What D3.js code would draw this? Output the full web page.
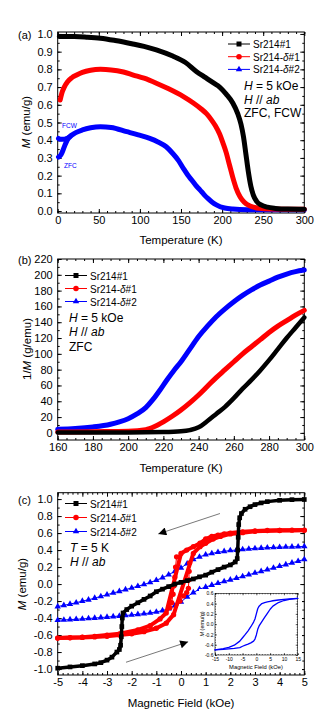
<!DOCTYPE html>
<html>
<head>
<meta charset="utf-8">
<script src="https://cdn.jsdelivr.net/npm/d3@7"></script>
<style>
  body { margin: 0; background: #fff; }
  svg { display: block; font-family: "Liberation Sans", Arial, sans-serif; }
</style>
</head>
<body>
<svg id="chart" width="332" height="726"></svg>
<script>
// ---------- data ----------
// (a) M vs T, [T (K), M (emu/g)]
const sr1M = [[2,0.985],[20,0.985],[35,0.982],[52,0.976],[70,0.963],[90,0.945],[105,0.93],[120,0.91],[140,0.875],[155,0.84],[169,0.787],[180,0.753],[190,0.722],[197,0.70],[205,0.66],[213,0.61],[219,0.55],[223,0.49],[226,0.42],[229,0.32],[232,0.22],[235,0.14],[238,0.09],[242,0.055],[248,0.033],[255,0.022],[265,0.015],[280,0.011],[300,0.01]];
const d1M = [[3,0.627],[5,0.665],[8,0.7],[12,0.73],[17,0.752],[23,0.768],[30,0.783],[40,0.795],[52,0.8],[65,0.797],[80,0.785],[92,0.768],[105,0.75],[120,0.722],[135,0.69],[153,0.646],[165,0.61],[175,0.575],[181,0.55],[187,0.515],[192,0.48],[197,0.435],[201,0.385],[205,0.33],[209,0.26],[213,0.19],[217,0.13],[222,0.08],[227,0.05],[234,0.028],[245,0.016],[260,0.012],[300,0.01]];
const d2Fcw = [[1,0.41],[4,0.405],[8,0.405],[12,0.412],[16,0.425],[22,0.443],[30,0.458],[40,0.47],[52,0.476],[65,0.472],[84,0.448],[98,0.43],[112,0.41],[122,0.39],[132,0.363],[140,0.325],[147,0.285],[153,0.24],[158,0.205],[163,0.175],[168,0.145],[173,0.12],[178,0.093],[183,0.07],[188,0.05],[193,0.035],[203,0.017],[213,0.011],[230,0.008],[260,0.008],[300,0.008]];
const d2Zfc = [[1,0.305],[4,0.318],[7,0.35],[10,0.385],[13,0.41],[16,0.425]];

// (b) 1/M vs T, [T (K), 1/M (g/emu)]
const sr1Inv = [[160,0.5],[200,0.5],[220,1],[230,2],[235,3.5],[240,7],[245,15],[250,24],[255,33],[260,44],[265,56],[270,67],[275,79],[280,92],[285,106],[290,120],[295,133],[300,146]];
const d1Inv = [[160,1],[180,1.5],[200,2],[210,4],[215,8],[220,14],[225,21],[230,29],[235,38],[240,48],[245,59],[250,70],[255,80],[260,90],[265,100],[270,109],[275,118],[280,127],[285,135],[290,142],[295,149],[300,155]];
const d2Inv = [[160,4.5],[170,5.5],[180,7.5],[190,11],[195,14],[200,18],[205,24],[210,32],[214,42],[218,54],[222,67],[226,79],[230,90],[235,106],[240,122],[245,135],[250,147],[255,157],[260,166],[265,174],[270,181],[275,187],[280,192],[285,197],[290,201],[295,204],[300,206]];

// (c) M vs H at 5 K, [H (kOe), M (emu/g)]
const sr1Loop = [[-5,-0.99],[-4.5,-0.975],[-4,-0.96],[-3.5,-0.94],[-3.25,-0.925],[-3,-0.895],[-2.8,-0.86],[-2.6,-0.8],[-2.5,-0.77],[-2.45,-0.72],[-2.42,-0.62],[-2.4,-0.5],[-2.38,-0.4],[-2.35,-0.34],[-2.2,-0.3],[-2,-0.26],[-1.75,-0.22],[-1.5,-0.18],[-1.25,-0.14],[-1,-0.09],[-0.75,-0.06],[-0.5,-0.03],[-0.25,0],[0,0.02],[0.25,0.04],[0.5,0.06],[0.75,0.085],[1,0.105],[1.25,0.14],[1.5,0.17],[1.75,0.2],[2,0.225],[2.2,0.26],[2.28,0.3],[2.3,0.4],[2.32,0.55],[2.34,0.7],[2.38,0.78],[2.45,0.83],[2.6,0.88],[2.8,0.91],[3,0.935],[3.25,0.955],[3.5,0.97],[4,0.985],[4.5,0.993],[5,0.995]];
const d1Down = [[5,0.635],[4.5,0.634],[4,0.632],[3.5,0.63],[3,0.625],[2.5,0.615],[2,0.6],[1.75,0.59],[1.5,0.575],[1.25,0.56],[1,0.53],[0.77,0.48],[0.5,0.44],[0.23,0.4],[0,0.36],[-0.18,0.32],[-0.22,0.2],[-0.25,0.08],[-0.28,-0.02],[-0.32,-0.12],[-0.38,-0.22],[-0.45,-0.28],[-0.6,-0.34],[-0.85,-0.41],[-1.25,-0.49],[-1.75,-0.54],[-2.5,-0.585],[-3,-0.6],[-3.5,-0.615],[-4,-0.625],[-4.5,-0.63],[-5,-0.635]];
const d1Up = [[-5,-0.635],[-4.5,-0.632],[-4,-0.628],[-3.5,-0.622],[-3,-0.615],[-2.5,-0.6],[-2,-0.585],[-1.5,-0.56],[-1,-0.52],[-0.6,-0.46],[-0.3,-0.36],[-0.04,-0.2],[0.1,-0.14],[0.23,-0.1],[0.3,-0.05],[0.32,0.05],[0.33,0.15],[0.35,0.25],[0.5,0.36],[0.77,0.44],[1,0.48],[1.3,0.53],[1.6,0.56],[2,0.59],[2.5,0.605],[3,0.62],[4,0.63],[5,0.632]];
const fieldGrid = [-5,-4.75,-4.5,-4.25,-4,-3.75,-3.5,-3.25,-3,-2.75,-2.5,-2.25,-2,-1.75,-1.5,-1.25,-1,-0.75,-0.5,-0.25,0,0.25,0.5,0.75,1,1.25,1.5,1.75,2,2.25,2.5,2.75,3,3.25,3.5,3.75,4,4.25,4.5,4.75,5];
const d2Down = [-0.265,-0.25,-0.235,-0.22,-0.2,-0.185,-0.165,-0.145,-0.125,-0.105,-0.085,-0.065,-0.045,-0.025,-0.005,0.02,0.045,0.075,0.11,0.15,0.19,0.24,0.29,0.32,0.345,0.36,0.375,0.385,0.395,0.4,0.408,0.414,0.42,0.424,0.428,0.431,0.434,0.436,0.438,0.44,0.442];
const d2Up = [-0.425,-0.422,-0.418,-0.414,-0.41,-0.405,-0.4,-0.394,-0.388,-0.382,-0.376,-0.37,-0.363,-0.356,-0.348,-0.34,-0.328,-0.312,-0.29,-0.255,-0.21,-0.15,-0.1,-0.06,-0.035,-0.012,0.01,0.03,0.05,0.07,0.09,0.11,0.13,0.15,0.17,0.19,0.21,0.23,0.25,0.27,0.29];

// inset: full loop of Sr214-δ#2 up to 15 kOe
const insetDown = [[15,0.5],[12,0.49],[10,0.48],[8,0.47],[6,0.455],[5,0.445],[4,0.435],[3,0.42],[2,0.4],[1,0.35],[0.5,0.3],[0,0.2],[-0.5,0.1],[-1,0.04],[-2,-0.05],[-3,-0.13],[-4,-0.2],[-5,-0.265],[-6,-0.33],[-8,-0.41],[-10,-0.45],[-12,-0.475],[-15,-0.5]];
const insetUp = [[-15,-0.5],[-12,-0.49],[-10,-0.48],[-8,-0.47],[-6,-0.455],[-5,-0.43],[-4,-0.41],[-3,-0.39],[-2,-0.365],[-1,-0.33],[-0.5,-0.29],[0,-0.21],[0.5,-0.1],[1,-0.035],[2,0.05],[3,0.13],[4,0.21],[5,0.29],[6,0.35],[8,0.42],[10,0.46],[12,0.48],[15,0.5]];

// tick labels
const tempTicksA = [0, 50, 100, 150, 200, 250, 300];
const mTicksA = [0, 0.1, 0.2, 0.3, 0.4, 0.5, 0.6, 0.7, 0.8, 0.9, 1.0];
const tempTicksB = [160, 180, 200, 220, 240, 260, 280, 300];
const invTicksB = [0, 20, 40, 60, 80, 100, 120, 140, 160, 180, 200, 220];
const fieldTicksC = [-5, -4, -3, -2, -1, 0, 1, 2, 3, 4, 5];
const mTicksC = [-1.0, -0.8, -0.6, -0.4, -0.2, 0, 0.2, 0.4, 0.6, 0.8, 1.0];
const fieldTicksIn = [-15, -10, -5, 0, 5, 10, 15];
const mTicksIn = [-0.6, -0.4, -0.2, 0, 0.2, 0.4, 0.6];

const BLACK = '#000000', RED = '#ff0000', BLUE = '#0000ff';
const series = [
  { name: ['Sr214#1'], color: BLACK, symbol: d3.symbolSquare, size: 25 },
  { name: ['Sr214-', 'δ', '#1'], color: RED, symbol: d3.symbolCircle, size: 24 },
  { name: ['Sr214-', 'δ', '#2'], color: BLUE, symbol: d3.symbolTriangle, size: 18 }
];

const svg = d3.select('#chart');
const X0 = 57.7, X1 = 304.3;
const fix1 = d => d.toFixed(1);

// frame with inward ticks on all four sides
function drawFrame(x, y, o) {
  const g = svg.append('g');
  const [xa, xb] = x.range();
  const [yb, ya] = y.range();
  const fs = o.fs || 11, tl = o.tl || 4, tm = o.tm || 2;
  const sides = [
    [d3.axisBottom, `translate(0,${yb})`, x, o.xMajor, o.xMinor, o.xFmt, o.xPad],
    [d3.axisTop, `translate(0,${ya})`, x, o.xMajor, o.xMinor, null, 0],
    [d3.axisLeft, `translate(${xa},0)`, y, o.yMajor, o.yMinor, o.yFmt, o.yPad],
    [d3.axisRight, `translate(${xb},0)`, y, o.yMajor, o.yMinor, null, 0]
  ];
  sides.forEach(([fn, tr, sc, major, minor, fmt, pad]) => {
    g.append('g').attr('transform', tr)
      .call(fn(sc).tickValues(minor).tickSize(-tm).tickFormat(''))
      .call(s => s.select('.domain').remove());
    g.append('g').attr('transform', tr)
      .call(fn(sc).tickValues(major).tickSize(-tl).tickPadding(pad).tickFormat(fmt || ''))
      .call(s => s.select('.domain').remove())
      .attr('font-size', fs).attr('font-family', null);
  });
  g.selectAll('.tick line').attr('stroke-width', o.sw || 1);
  g.append('rect')
    .attr('x', xa).attr('y', ya)
    .attr('width', xb - xa).attr('height', yb - ya)
    .attr('fill', 'none').attr('stroke', '#000').attr('stroke-width', o.sw || 1);
  return g;
}

// text made of [string, italic?] parts
function richText(x, y, parts, size, opts = {}) {
  const t = svg.append('text')
    .attr('x', x).attr('y', y)
    .attr('font-size', size)
    .attr('fill', opts.color || '#000')
    .attr('text-anchor', opts.anchor || 'start')
    .attr('dominant-baseline', 'central');
  if (opts.rotate) t.attr('transform', `rotate(-90,${x},${y})`);
  parts.forEach(([s, it]) => t.append('tspan').text(s).attr('font-style', it ? 'italic' : 'normal'));
  return t;
}

function legend(x0, y0, dy, size) {
  series.forEach((s, i) => {
    const y = y0 + i * dy;
    svg.append('line').attr('x1', x0).attr('x2', x0 + 22).attr('y1', y).attr('y2', y)
      .attr('stroke', s.color).attr('stroke-width', 1);
    svg.append('path').attr('d', d3.symbol(s.symbol, s.size)())
      .attr('transform', `translate(${x0 + 11},${y})`).attr('fill', s.color);
    const parts = s.name.map(p => [p, p === 'δ']);
    richText(x0 + 25, y, parts, size);
  });
}

function band(x, y, pts, color, width, curve) {
  svg.append('path').datum(pts)
    .attr('d', d3.line().x(d => x(d[0])).y(d => y(d[1])).curve(curve || d3.curveMonotoneX))
    .attr('fill', 'none').attr('stroke', color).attr('stroke-width', width)
    .attr('stroke-linejoin', 'round').attr('stroke-linecap', 'round');
}

function markers(x, y, pts, s, size) {
  svg.append('g').selectAll('path').data(pts).join('path')
    .attr('d', d3.symbol(s.symbol, size || s.size)())
    .attr('transform', d => `translate(${x(d[0])},${y(d[1])})`)
    .attr('fill', s.color);
}

// ---------- panel (a) ----------
const xA = d3.scaleLinear().domain([0, 300]).range([X0, X1]);
const yA = d3.scaleLinear().domain([-0.011, 1.011]).range([213, 32]);
drawFrame(xA, yA, {
  xMajor: tempTicksA, xMinor: d3.range(0, 301, 10), xFmt: d => d, xPad: 3,
  yMajor: mTicksA, yMinor: d3.range(0, 1.01, 0.05), yFmt: fix1, yPad: 5
});
band(xA, yA, d2Fcw, BLUE, 5);
band(xA, yA, d2Zfc, BLUE, 5);
band(xA, yA, d1M, RED, 5);
band(xA, yA, sr1M, BLACK, 5);
legend(228, 44, 12.7, 10);
richText(244, 86, [['H', true], [' = 5 kOe', false]], 12);
richText(244, 99.5, [['H', true], [' // ', false], ['ab', true]], 12);
richText(244, 113, [['ZFC, FCW', false]], 12);
richText(62, 125, [['FCW', false]], 6.5, { color: BLUE });
richText(64, 165, [['ZFC', false]], 6.5, { color: BLUE });
richText(18, 35, [['(a)', false]], 11);
richText(26, 122, [['M', true], [' (emu/g)', false]], 11.5, { anchor: 'middle', rotate: true });
richText(181, 240, [['Temperature (K)', false]], 11.5, { anchor: 'middle' });

// ---------- panel (b) ----------
const xB = d3.scaleLinear().domain([160, 300]).range([X0, X1]);
const yB = d3.scaleLinear().domain([-9, 220]).range([440, 259]);
drawFrame(xB, yB, {
  xMajor: tempTicksB, xMinor: d3.range(160, 301, 5), xFmt: d => d, xPad: 3,
  yMajor: invTicksB, yMinor: d3.range(0, 221, 10), yFmt: d => d, yPad: 5
});
band(xB, yB, d2Inv, BLUE, 5);
band(xB, yB, d1Inv, RED, 5);
band(xB, yB, sr1Inv, BLACK, 4.5);
legend(65, 275.5, 13, 10);
richText(69, 318, [['H', true], [' = 5 kOe', false]], 12);
richText(69, 332, [['H', true], [' // ', false], ['ab', true]], 12);
richText(69, 346.5, [['ZFC', false]], 12);
richText(18, 260, [['(b)', false]], 11);
richText(27, 349, [['1/', false], ['M', true], [' (g/emu)', false]], 11.5, { anchor: 'middle', rotate: true });
richText(181, 468, [['Temperature (K)', false]], 11.5, { anchor: 'middle' });

// ---------- panel (c) ----------
const xC = d3.scaleLinear().domain([-5, 5]).range([X0, X1]);
const yC = d3.scaleLinear().domain([-1.07, 1.075]).range([675, 492.7]);
drawFrame(xC, yC, {
  xMajor: fieldTicksC, xMinor: d3.range(-5, 5.01, 0.2), xFmt: d => d, xPad: 3,
  yMajor: mTicksC, yMinor: d3.range(-1, 1.01, 0.1), yFmt: fix1, yPad: 5
});
const d2DownPts = fieldGrid.map((h, i) => [h, d2Down[i]]);
const d2UpPts = fieldGrid.map((h, i) => [h, d2Up[i]]);
band(xC, yC, d2DownPts, BLUE, 1, d3.curveLinear);
band(xC, yC, d2UpPts, BLUE, 1, d3.curveLinear);
markers(xC, yC, d2DownPts, series[2]);
markers(xC, yC, d2UpPts, series[2]);
band(xC, yC, d1Down, RED, 1, d3.curveLinear);
band(xC, yC, d1Up, RED, 1, d3.curveLinear);
band(xC, yC, d1Down.filter(d => d[1] > 0.33 || d[1] < -0.3), RED, 4, d3.curveLinear);
band(xC, yC, d1Up.filter(d => d[1] > 0.3 || d[1] < -0.35), RED, 4, d3.curveLinear);
markers(xC, yC, d1Down, series[1], 22);
markers(xC, yC, d1Up, series[1], 22);
band(xC, yC, sr1Loop, BLACK, 3.5, d3.curveLinear);
markers(xC, yC, sr1Loop, series[0], 22);
legend(65, 503.5, 14, 10);
richText(70, 548, [['T', true], [' = 5 K', false]], 12);
richText(70, 562, [['H', true], [' // ', false], ['ab', true]], 12);
richText(18, 500, [['(c)', false]], 11);
richText(22, 584, [['M', true], [' (emu/g)', false]], 11.5, { anchor: 'middle', rotate: true });
richText(181, 703, [['Magnetic Field (kOe)', false]], 11.5, { anchor: 'middle' });

// sweep-direction arrows, given in (H, M)
const arrows = [
  { from: [1.58, 0.83], to: [-0.92, 0.59] },
  { from: [-2.23, -0.92], to: [0.29, -0.68] }
];
svg.append('defs').append('marker')
  .attr('id', 'head').attr('viewBox', '0 0 10 10').attr('refX', 10).attr('refY', 5)
  .attr('markerWidth', 11).attr('markerHeight', 8).attr('markerUnits', 'userSpaceOnUse')
  .attr('orient', 'auto')
  .append('path').attr('d', 'M0,0L10,5L0,10Z').attr('fill', '#000');
arrows.forEach(a => {
  svg.append('line')
    .attr('x1', xC(a.from[0])).attr('y1', yC(a.from[1]))
    .attr('x2', xC(a.to[0])).attr('y2', yC(a.to[1]))
    .attr('stroke', '#555').attr('stroke-width', 0.8)
    .attr('marker-end', 'url(#head)');
});

// inset
const xI = d3.scaleLinear().domain([-15, 15]).range([215, 297.7]);
const yI = d3.scaleLinear().domain([-0.6, 0.6]).range([655, 593.3]);
svg.append('rect').attr('x', 199).attr('y', 589).attr('width', 103).attr('height', 83).attr('fill', '#fff');
drawFrame(xI, yI, {
  fs: 5, tl: 2, tm: 1, sw: 0.6,
  xMajor: fieldTicksIn, xMinor: d3.range(-15, 15.1, 1), xFmt: d => d, xPad: 2.5,
  yMajor: mTicksIn, yMinor: d3.range(-0.6, 0.61, 0.05), yFmt: fix1, yPad: 1.5
});
band(xI, yI, insetDown, BLUE, 1.3, d3.curveLinear);
band(xI, yI, insetUp, BLUE, 1.3, d3.curveLinear);
richText(202, 624, [['M', true], [' (emu/g)', false]], 5.5, { anchor: 'middle', rotate: true });
richText(256, 667, [['Magnetic Field (kOe)', false]], 5.8, { anchor: 'middle' });
</script>
</body>
</html>
